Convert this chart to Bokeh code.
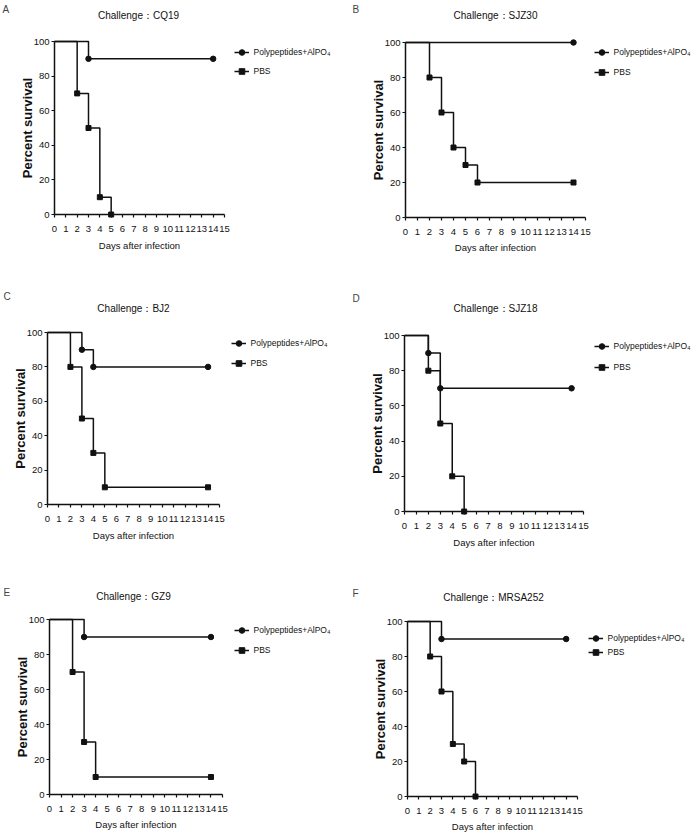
from bokeh.plotting import figure
from bokeh.models import Range1d, FixedTicker, Label, Legend, LegendItem
from bokeh.layouts import gridplot
from bokeh.embed import file_html
from bokeh.resources import INLINE

# ---------------- data ----------------
panel_letters = ["A", "B", "C", "D", "E", "F"]
strain_names = ["CQ19", "SJZ30", "BJ2", "SJZ18", "GZ9", "MRSA252"]
title_prefix = "Challenge："
series_names = ["Polypeptides+AlPO₄", "PBS"]
x_tick_values = list(range(16))
y_tick_values = [0, 20, 40, 60, 80, 100]
x_axis_title = "Days after infection"
y_axis_title = "Percent survival"

cq19_poly_days = [0, 3, 14]
cq19_poly_surv = [100, 90, 90]
cq19_pbs_days = [0, 2, 3, 4, 5]
cq19_pbs_surv = [100, 70, 50, 10, 0]

sjz30_poly_days = [0, 14]
sjz30_poly_surv = [100, 100]
sjz30_pbs_days = [0, 2, 3, 4, 5, 6, 14]
sjz30_pbs_surv = [100, 80, 60, 40, 30, 20, 20]

bj2_poly_days = [0, 3, 4, 14]
bj2_poly_surv = [100, 90, 80, 80]
bj2_pbs_days = [0, 2, 3, 4, 5, 14]
bj2_pbs_surv = [100, 80, 50, 30, 10, 10]

sjz18_poly_days = [0, 2, 3, 14]
sjz18_poly_surv = [100, 90, 70, 70]
sjz18_pbs_days = [0, 2, 3, 4, 5]
sjz18_pbs_surv = [100, 80, 50, 20, 0]

gz9_poly_days = [0, 3, 14]
gz9_poly_surv = [100, 90, 90]
gz9_pbs_days = [0, 2, 3, 4, 14]
gz9_pbs_surv = [100, 70, 30, 10, 10]

mrsa252_poly_days = [0, 3, 14]
mrsa252_poly_surv = [100, 90, 90]
mrsa252_pbs_days = [0, 2, 3, 4, 5, 6]
mrsa252_pbs_surv = [100, 80, 60, 30, 20, 0]

panel_series = [
    (cq19_poly_days, cq19_poly_surv, cq19_pbs_days, cq19_pbs_surv),
    (sjz30_poly_days, sjz30_poly_surv, sjz30_pbs_days, sjz30_pbs_surv),
    (bj2_poly_days, bj2_poly_surv, bj2_pbs_days, bj2_pbs_surv),
    (sjz18_poly_days, sjz18_poly_surv, sjz18_pbs_days, sjz18_pbs_surv),
    (gz9_poly_days, gz9_poly_surv, gz9_pbs_days, gz9_pbs_surv),
    (mrsa252_poly_days, mrsa252_poly_surv, mrsa252_pbs_days, mrsa252_pbs_surv),
]

# ---------------- layout (page pixel positions) ----------------
layouts = [
    dict(fig=(0, 0, 350, 270), axes=(54, 224, 41, 214), letter=(2, 3), title=(138, 15), legend=(241, 52, 71), xlab=33),
    dict(fig=(350, 0, 348, 270), axes=(405, 585, 42, 217), letter=(352, 3), title=(495, 15), legend=(604, 52, 72), xlab=32),
    dict(fig=(0, 270, 350, 280), axes=(47, 219, 332, 504), letter=(3, 290), title=(133, 308), legend=(238, 343, 363), xlab=33),
    dict(fig=(350, 270, 348, 280), axes=(404, 583, 335, 511), letter=(352, 292), title=(495, 308), legend=(606, 346, 367), xlab=33),
    dict(fig=(0, 550, 350, 286), axes=(49, 222, 619, 794), letter=(3, 586), title=(133, 596), legend=(241, 630, 650), xlab=32),
    dict(fig=(350, 550, 348, 286), axes=(407, 577, 621, 796), letter=(352, 587), title=(493, 597), legend=(595, 638, 651), xlab=32),
]

FONT = "Liberation Sans"
INK = "#111111"
GW, GH = 15, 14
LEG_SIZE = 8.5


def make_panel(i):
    poly_d, poly_s, pbs_d, pbs_s = panel_series[i]
    L = layouts[i]
    fx, fy, fw, fh = L["fig"]
    x0a, x15a, y100a, y0a = L["axes"]
    sx = (x15a - x0a) / 15.0
    sy = (y0a - y100a) / 100.0

    def to_data(ax_, ay_):
        return (ax_ - x0a) / sx, (y0a - ay_) / sy

    # the frame covers the whole figure; axes are pinned at x=0 / y=0
    x_lo, y_hi = to_data(fx, fy)
    x_hi, y_lo = to_data(fx + fw, fy + fh)

    p = figure(width=fw, height=fh,
               x_range=Range1d(x_lo, x_hi), y_range=Range1d(y_lo, y_hi),
               output_backend="svg", toolbar_location=None, tools="",
               min_border=0, min_border_left=0, min_border_right=0,
               min_border_top=0, min_border_bottom=0)
    p.outline_line_color = None
    p.xgrid.visible = False
    p.ygrid.visible = False
    p.background_fill_color = "white"
    p.border_fill_color = "white"

    xa, ya = p.xaxis[0], p.yaxis[0]
    for ax in (xa, ya):
        ax.fixed_location = 0
        ax.axis_line_color = INK
        ax.axis_line_width = 1.5
        ax.major_tick_line_color = INK
        ax.major_tick_line_width = 1.2
        ax.major_tick_in = 0
        ax.major_tick_out = 3
        ax.minor_tick_line_color = None
        ax.major_label_text_font = FONT
        ax.major_label_text_font_size = "9.5px"
        ax.major_label_text_color = INK
    xa.bounds = (x_tick_values[0], x_tick_values[-1])
    ya.bounds = (y_tick_values[0], y_tick_values[-1])
    xa.ticker = FixedTicker(ticks=x_tick_values, minor_ticks=[])
    ya.ticker = FixedTicker(ticks=y_tick_values, minor_ticks=[])
    xa.major_label_standoff = 8
    ya.major_label_standoff = 2

    xa.axis_label = x_axis_title
    xa.axis_label_text_font = FONT
    xa.axis_label_text_font_size = "9.5px"
    xa.axis_label_text_font_style = "normal"
    xa.axis_label_text_color = INK
    xa.axis_label_standoff = max(0, int(round(L["xlab"] - 28)))

    ya.axis_label = y_axis_title
    ya.axis_label_text_font = FONT
    ya.axis_label_text_font_size = "13px"
    ya.axis_label_text_font_style = "bold"
    ya.axis_label_text_color = INK
    ya.axis_label_standoff = -4

    # curves
    pbs_line = p.step(pbs_d, pbs_s, mode="after", line_color=INK, line_width=1.5)
    pbs_pts = p.scatter(pbs_d[1:], pbs_s[1:], marker="square", size=5,
                        fill_color=INK, line_color=INK, line_width=1)
    poly_line = p.step(poly_d, poly_s, mode="after", line_color=INK, line_width=1.5)
    poly_pts = p.scatter(poly_d[1:], poly_s[1:], marker="circle", size=5.5,
                         fill_color=INK, line_color=INK, line_width=1)

    # legend (frame == figure, so location is relative to the figure's bottom-left)
    gcx, ly1, ly2 = L["legend"]
    eh = GH
    spacing = max(0, int(round((ly2 - ly1) - eh)))
    left = gcx - GW / 2.0
    text_w = 9.7 * LEG_SIZE
    right_edge = left + GW + 5 + text_w
    if right_edge > fx + fw - 2:
        left -= right_edge - (fx + fw - 2)
    vx = left - fx
    vy = (fy + fh) - (ly1 + eh / 2.0 + eh + spacing)
    legend = Legend(items=[LegendItem(label=series_names[0], renderers=[poly_line, poly_pts]),
                           LegendItem(label=series_names[1], renderers=[pbs_line, pbs_pts])],
                    location=(vx, vy), glyph_width=GW, glyph_height=GH, label_height=GH,
                    label_width=10, spacing=spacing, padding=0, margin=0,
                    label_standoff=5, border_line_alpha=0, background_fill_alpha=0,
                    label_text_font=FONT, label_text_font_size="%gpx" % LEG_SIZE,
                    label_text_color=INK)
    p.add_layout(legend)

    # panel letter and title
    lx, ly = L["letter"]
    lx = max(lx, fx + 1)
    ly = max(ly, fy + 1)
    dx, dy = to_data(lx, ly)
    p.add_layout(Label(x=dx, y=dy, text=panel_letters[i], text_align="left", text_baseline="top",
                       text_font=FONT, text_font_size="10px", text_color="#444444"))
    tx, ty = L["title"]
    dx, dy = to_data(tx, ty)
    p.add_layout(Label(x=dx, y=dy, text=title_prefix + strain_names[i], text_align="center",
                       text_baseline="middle", text_font=FONT, text_font_size="10px",
                       text_color=INK))
    return p


panels = [make_panel(i) for i in range(6)]
grid = gridplot([[panels[0], panels[1]], [panels[2], panels[3]], [panels[4], panels[5]]],
                toolbar_location=None)

open("out.html", "w").write(file_html(grid, INLINE))
